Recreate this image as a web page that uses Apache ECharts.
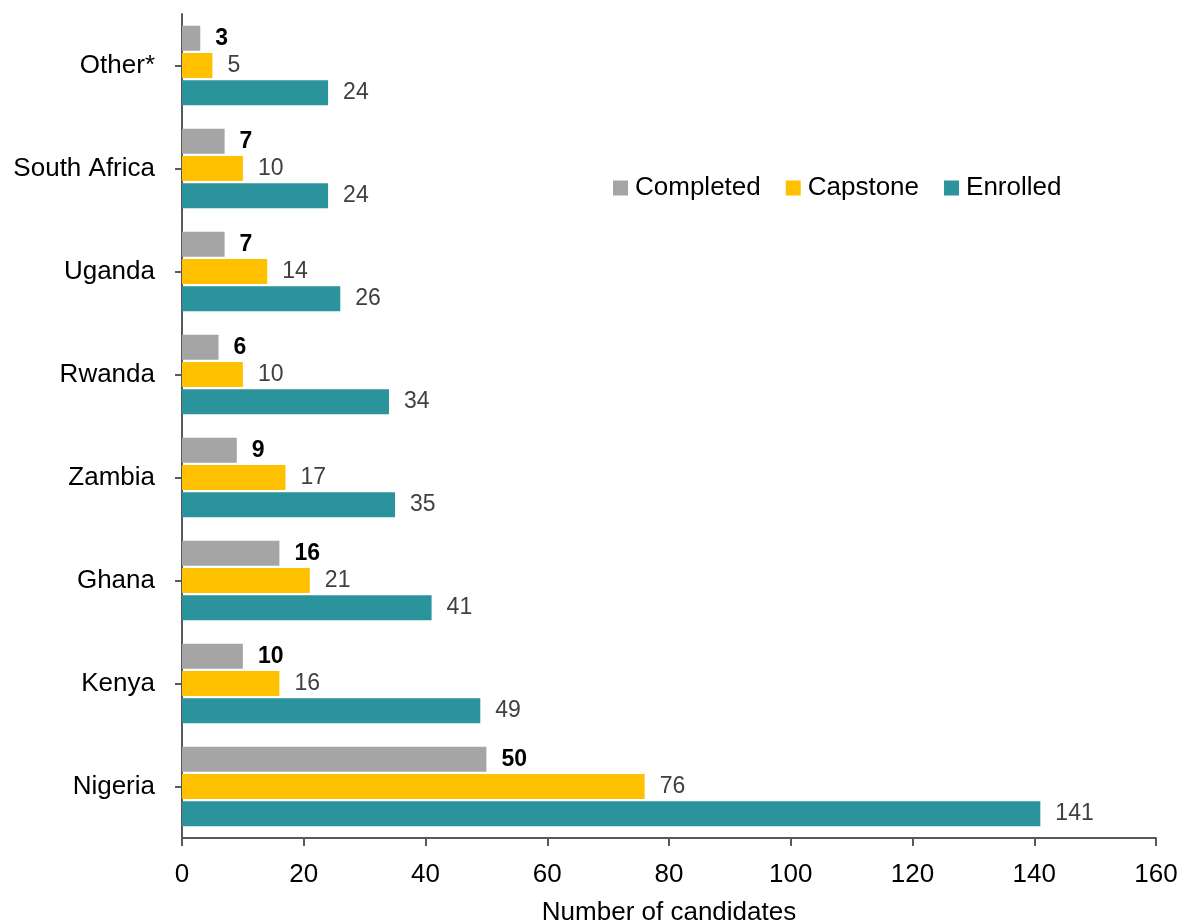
<!DOCTYPE html>
<html>
<head>
<meta charset="utf-8">
<script src="https://cdn.jsdelivr.net/npm/echarts@6/dist/echarts.min.js"></script>
<style>
html,body{margin:0;padding:0;background:#fff;}
#c{width:1184px;height:924px;}
</style>
</head>
<body>
<div id="c"></div>
<script>
const categories = ['Nigeria','Kenya','Ghana','Zambia','Rwanda','Uganda','South Africa','Other*'];
const completed = [50,10,16,9,6,7,7,3];
const capstone = [76,16,21,17,10,14,10,5];
const enrolled = [141,49,41,35,34,26,24,24];
const xTicks = [0,20,40,60,80,100,120,140,160];

const FONT = 'Liberation Sans, Arial, sans-serif';
const chart = echarts.init(document.getElementById('c'));
const labelBase = {show:true, position:'right', distance:15, fontFamily:FONT, fontSize:23};
chart.setOption({
  animation:false,
  textStyle:{fontFamily:FONT},
  legend:{
    data:['Completed','Capstone','Enrolled'],
    left:608, top:170,
    icon:'rect', itemWidth:15, itemHeight:15, itemGap:25,
    textStyle:{fontFamily:FONT, fontSize:26, color:'#000', padding:[0,0,0,2]}
  },
  grid:{left:182, right:28, top:14, bottom:86, containLabel:false, outerBoundsMode:'none'},
  xAxis:{
    type:'value', min:xTicks[0], max:xTicks[xTicks.length-1], interval:20,
    name:'Number of candidates', nameLocation:'middle', nameGap:62,
    nameTextStyle:{fontFamily:FONT, fontSize:26, color:'#000'},
    axisLine:{show:true, lineStyle:{color:'#595959', width:2}},
    axisTick:{show:true, length:8, lineStyle:{color:'#595959', width:2}},
    axisLabel:{fontFamily:FONT, fontSize:26, color:'#000', margin:24},
    splitLine:{show:false}
  },
  yAxis:{
    type:'category', data:categories,
    axisLine:{show:true, lineStyle:{color:'#595959', width:2}},
    axisTick:{show:true, length:7, alignWithLabel:true, lineStyle:{color:'#595959', width:2}},
    axisLabel:{fontFamily:FONT, fontSize:26, color:'#000', margin:27, padding:[6,0,0,0]}
  },
  series:[
    {name:'Completed', type:'bar', data:completed, barWidth:25, barGap:'9%',
     itemStyle:{color:'#A5A5A5'},
     label:Object.assign({}, labelBase, {color:'#000', fontWeight:'bold', padding:[2,0,0,0]})},
    {name:'Capstone', type:'bar', data:capstone, barWidth:25, barGap:'9%',
     itemStyle:{color:'#FFC000'},
     label:Object.assign({}, labelBase, {color:'#404040', padding:[4,0,0,0]})},
    {name:'Enrolled', type:'bar', data:enrolled, barWidth:25, barGap:'9%',
     itemStyle:{color:'#2A939B'},
     label:Object.assign({}, labelBase, {color:'#404040', padding:[5,0,0,0]})}
  ]
});
</script>
</body>
</html>
